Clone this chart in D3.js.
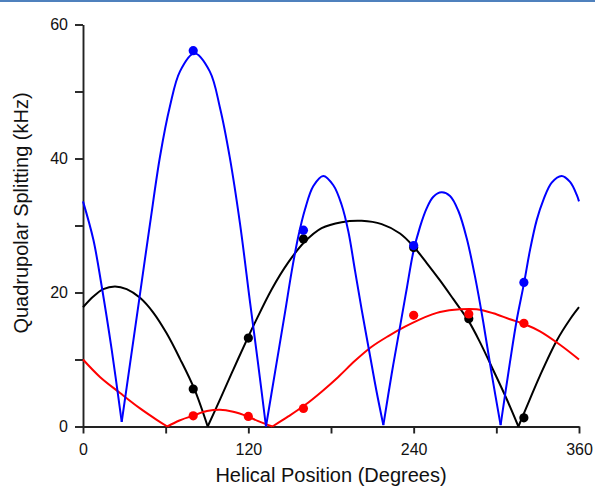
<!DOCTYPE html>
<html>
<head>
<meta charset="utf-8">
<script src="https://cdn.jsdelivr.net/npm/d3@7"></script>
<style>
  html, body { margin: 0; padding: 0; background: #fff; }
  svg { display: block; }
  text { font-family: "Liberation Sans", Arial, sans-serif; fill: #111; }
</style>
</head>
<body>
<svg id="chart" width="595" height="488"></svg>
<script>
// ---- data ----
const xTickValues = [0, 120, 240, 360];
const xMinorTicks = [60, 180, 300];
const yTickValues = [0, 20, 40, 60];
const yMinorTicks = [10, 30, 50];
const xTitle = "Helical Position (Degrees)";
const yTitle = "Quadrupolar Splitting (kHz)";

// measured points (degrees, kHz)
const bluePositions = [80, 160, 240, 320];
const blueValues = [56.1, 29.3, 27.0, 21.5];
const blackPositions = [80, 120, 160, 240, 280, 320];
const blackValues = [5.6, 13.2, 28.0, 26.7, 16.1, 1.3];
const redPositions = [80, 120, 160, 240, 280, 320];
const redValues = [1.6, 1.5, 2.7, 16.6, 16.8, 15.4];

// fitted curves, split at the cusps
const blueFit = [
  [[0,33.6],[7.5,27.9],[13.6,20.9],[20.8,11.5],[28.1,0.7]],
  [[28.1,0.7],[34.1,9.3],[40.9,19.1],[48.6,30.2],[55.9,40.3],[63.1,47.8],[70.4,53.0],[80.8,55.7],[92,53.0],[99.5,47.5],[106.5,40.2],[114,30.2],[121.2,18.6],[127,9.5],[132.8,0]],
  [[132.8,0],[139.3,8.0],[146.6,17.0],[151.5,23.2],[156.3,28.4],[161.1,32.4],[167.2,35.9],[174.4,37.4],[181.7,36.0],[187.7,33.1],[192.6,29.1],[197.4,23.3],[202.3,17.4],[208.3,10.6],[213,5.3],[218,0.2]],
  [[218,0.2],[224,7.8],[230.1,14.9],[235,20.6],[239.7,26.0],[244.6,29.8],[249.5,32.6],[254.3,34.3],[260.3,34.95],[266.4,34.4],[272.4,32.2],[278.5,28.1],[284.5,22.4],[290.5,15.6],[296.6,7.9],[303.1,0.2]],
  [[303.1,0.2],[309.9,9.6],[314.8,15.9],[320.1,21.4],[324.5,26.4],[329.3,30.8],[334.1,33.8],[340.2,36.4],[347.4,37.4],[353.5,36.5],[358.3,34.6],[360,33.6]]
];
const blackFit = [
  [[0,17.8],[7.5,19.4],[14.7,20.5],[23.2,20.9],[31.7,20.5],[41.4,19.2],[51,17.0],[60.7,13.9],[70.4,10.1],[80.8,5.6],[90.5,0]],
  [[90.5,0],[99.4,4.0],[109.1,8.5],[119.5,13.2],[124.8,15.5],[137,20.5],[149,24.5],[161.1,27.6],[173.2,29.6],[187.7,30.5],[202.3,30.7],[216.8,30.2],[230.1,28.8],[239.7,26.9],[249.5,24.4],[259.1,21.8],[268.8,19.0],[279.7,15.8],[288.1,12.6],[297.8,8.4],[307.5,4.1],[316,0]],
  [[316,0],[324,3.9],[331.7,7.6],[343.8,12.8],[353.5,16.0],[360,17.8]]
];
const redFit = [
  [[0,10.0],[12.3,7.4],[26.9,5.0],[41.4,2.7],[53.5,1.0],[61.2,0]],
  [[61.2,0],[70,0.9],[80.8,1.7],[90,2.3],[99.4,2.5],[109,2.2],[119.5,1.5],[127.2,0.8],[137.5,0]],
  [[137.5,0],[149,1.5],[161.1,3.2],[173.2,5.2],[185.3,7.4],[197.4,9.8],[209.5,11.9],[221.6,13.5],[233.7,14.9],[244.6,16.0],[253,16.7],[259.1,17.1],[273.6,17.5],[285.7,17.5],[297.8,16.9],[309.9,16.0],[320.2,15.3],[331.7,14.2],[346.2,12.2],[360,10.0]]
];

// ---- drawing ----
const svg = d3.select("#chart");
const x = d3.scaleLinear().domain([0, 360]).range([83, 579]);
const y = d3.scaleLinear().domain([0, 60]).range([426.5, 24.5]);

// top border line
svg.append("rect").attr("x", 0).attr("y", 0).attr("width", 595).attr("height", 2).attr("fill", "#4f81bd");

const axisColor = "#222";

// x axis
const gx = svg.append("g").attr("transform", `translate(0,${y(0)})`);
gx.call(d3.axisBottom(x).tickValues(xTickValues).tickSize(7).tickSizeOuter(0).tickPadding(10).tickFormat(d3.format("d")));
gx.append("g").call(d3.axisBottom(x).tickValues(xMinorTicks).tickSize(7).tickSizeOuter(0).tickFormat(""))
  .select(".domain").remove();
gx.selectAll("text").attr("font-size", 16).attr("font-family", "Liberation Sans, Arial, sans-serif").attr("fill", "#111");

// y axis
const gy = svg.append("g").attr("transform", `translate(${x(0)},0)`);
gy.call(d3.axisLeft(y).tickValues(yTickValues).tickSize(8).tickSizeOuter(0).tickPadding(7).tickFormat(d3.format("d")));
gy.append("g").call(d3.axisLeft(y).tickValues(yMinorTicks).tickSize(8).tickSizeOuter(0).tickFormat(""))
  .select(".domain").remove();
gy.selectAll("text").attr("font-size", 16).attr("font-family", "Liberation Sans, Arial, sans-serif").attr("fill", "#111");

svg.selectAll(".domain, .tick line").attr("stroke", axisColor).attr("stroke-width", 1.9);

// curves
const line = d3.line().x(d => x(d[0])).y(d => y(d[1])).curve(d3.curveCatmullRom.alpha(0.5));
function drawFit(segments, color) {
  svg.append("g").selectAll("path").data(segments).join("path")
    .attr("d", line).attr("fill", "none").attr("stroke", color).attr("stroke-width", 2)
    .attr("stroke-linejoin", "miter");
}
drawFit(blackFit, "#000000");
drawFit(redFit, "#ff0000");
drawFit(blueFit, "#0000ff");

function drawDots(pos, vals, color) {
  svg.append("g").selectAll("circle").data(pos.map((p, i) => [p, vals[i]])).join("circle")
    .attr("cx", d => x(d[0])).attr("cy", d => y(d[1])).attr("r", 4.6).attr("fill", color);
}
drawDots(blackPositions, blackValues, "#000000");
drawDots(bluePositions, blueValues, "#0000ff");
drawDots(redPositions, redValues, "#ff0000");

// titles
svg.append("text").attr("x", (x(0) + x(360)) / 2).attr("y", 482).attr("text-anchor", "middle")
  .attr("font-size", 20).text(xTitle);
svg.append("text").attr("transform", `translate(27.5,213) rotate(-90)`).attr("text-anchor", "middle")
  .attr("font-size", 20).text(yTitle);
</script>
</body>
</html>
